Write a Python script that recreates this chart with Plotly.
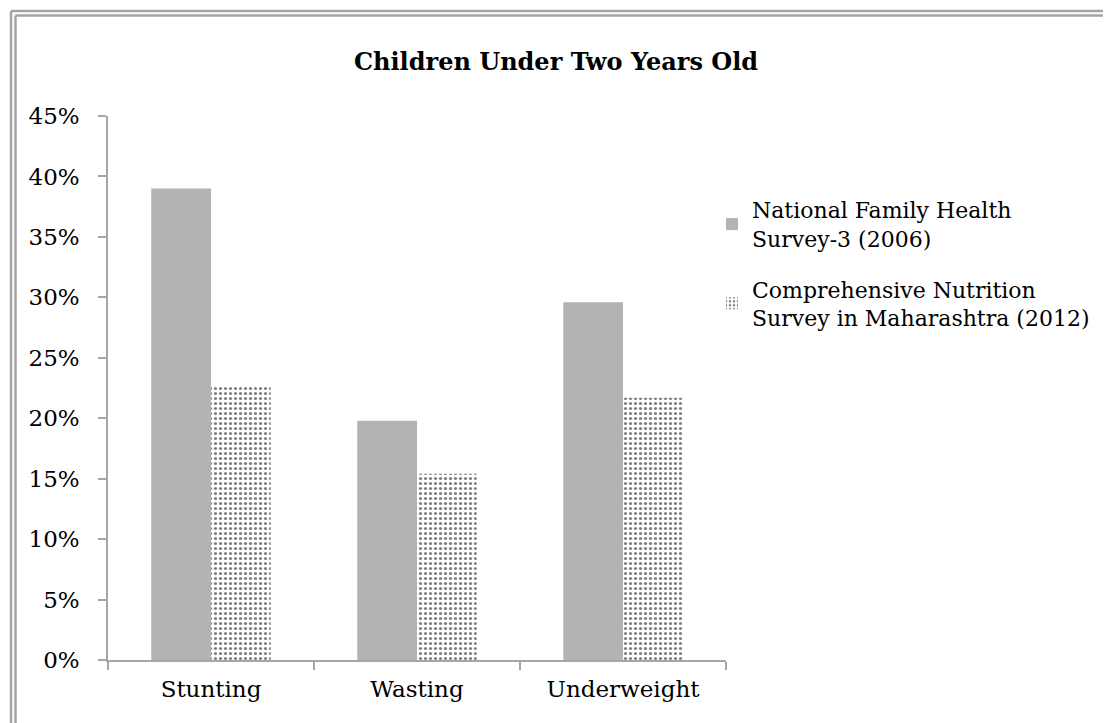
import plotly.graph_objects as go

categories = ["Stunting", "Wasting", "Underweight"]
nfhs_values = [0.390, 0.198, 0.296]
cns_values = [0.227, 0.154, 0.217]
series_names = ["National Family Health<br>Survey-3 (2006)",
                "Comprehensive Nutrition<br>Survey in Maharashtra (2012)"]
y_ticks = [0, 0.05, 0.10, 0.15, 0.20, 0.25, 0.30, 0.35, 0.40, 0.45]

FONT = "DejaVu Serif"
OFF = 8  # default page body margin
W, H = 1111 - OFF, 723 - OFF
# plot area in screen pixels: x 108..726, y 116..660
L, T = 108 - OFF, 116 - OFF
pw, ph = 726 - 108, 660 - 116
R, B = W - L - pw, H - T - ph


def px(sx):
    return (sx - OFF - L) / pw


def py(sy):
    return (T + ph - (sy - OFF)) / ph


fig = go.Figure()
fig.add_trace(go.Bar(
    x=categories, y=nfhs_values, name=series_names[0], legendgroup="a",
    marker=dict(color="#b3b3b3", line=dict(width=0)),
))
fig.add_trace(go.Bar(
    x=categories, y=cns_values, name=series_names[1], legendgroup="b",
    marker=dict(color="white", line=dict(width=0),
                pattern=dict(shape=".", fgcolor="black", bgcolor="white",
                             size=5, solidity=0.32)),
))

shapes = []
for v in (11, 15.5):
    shapes.append(dict(type="line", xref="paper", yref="paper",
                       x0=px(v), x1=px(1130), y0=py(v), y1=py(v),
                       line=dict(color="#a3a3a3", width=2.5)))
    shapes.append(dict(type="line", xref="paper", yref="paper",
                       x0=px(v), x1=px(v), y0=py(v), y1=py(740),
                       line=dict(color="#a3a3a3", width=2.5)))

fig.update_layout(
    width=W, height=H,
    margin=dict(l=L, r=R, t=T, b=B),
    paper_bgcolor="white", plot_bgcolor="white",
    font=dict(family=FONT, size=22, color="black"),
    title=dict(text="<b>Children Under Two Years Old</b>", x=(556 - OFF) / W,
               xref="container", xanchor="center",
               y=1 - (62 - OFF) / H, yref="container", yanchor="middle",
               font=dict(family=FONT, size=24, color="black")),
    barmode="group", bargap=0.42, bargroupgap=0,
    showlegend=True,
    legend=dict(x=px(712), y=py(189), xanchor="left", yanchor="top",
                traceorder="grouped", tracegroupgap=19,
                font=dict(family=FONT, size=22), bgcolor="rgba(0,0,0,0)"),
    shapes=shapes,
)
fig.update_xaxes(showline=True, linecolor="#a6a6a6", linewidth=1.5,
                 ticks="outside", tickson="boundaries", ticklen=8,
                 tickcolor="#a6a6a6", tickwidth=1.5, showgrid=False,
                 ticklabelstandoff=8,
                 tickfont=dict(family=FONT, size=23))
fig.update_yaxes(range=[0, 0.45], tickvals=y_ticks, tickformat=".0%",
                 showline=True, linecolor="#a6a6a6", linewidth=1.5,
                 ticks="outside", ticklen=8, tickcolor="#a6a6a6", tickwidth=1.5,
                 showgrid=False, zeroline=False, ticklabelstandoff=14,
                 tickfont=dict(family=FONT, size=23))

fig.write_html("out.html")
